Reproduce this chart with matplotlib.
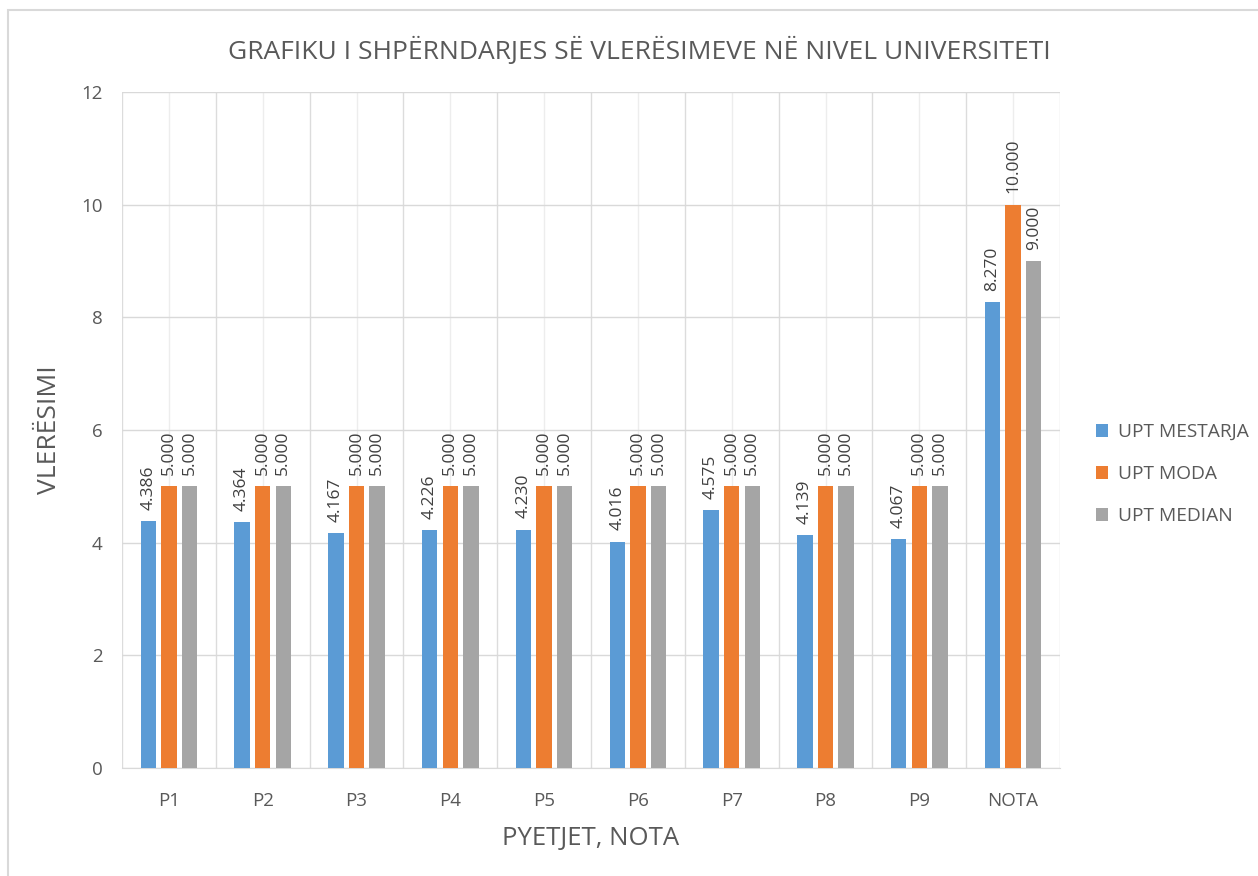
import matplotlib.pyplot as plt
import numpy as np
from matplotlib.patches import Rectangle

categories = ["P1", "P2", "P3", "P4", "P5", "P6", "P7", "P8", "P9", "NOTA"]
mestarja = [4.386, 4.364, 4.167, 4.226, 4.230, 4.016, 4.575, 4.139, 4.067, 8.270]
moda = [5.0, 5.0, 5.0, 5.0, 5.0, 5.0, 5.0, 5.0, 5.0, 10.0]
median = [5.0, 5.0, 5.0, 5.0, 5.0, 5.0, 5.0, 5.0, 5.0, 9.0]
series_names = ["UPT MESTARJA", "UPT MODA", "UPT MEDIAN"]

colors = ["#5B9BD5", "#ED7D31", "#A5A5A5"]
text_color = "#595959"

plt.rcParams["font.family"] = ["Open Sans", "DejaVu Sans"]

fig = plt.figure(figsize=(12.58, 8.76), dpi=100)
# outer chart frame (only left/top edges are visible in the crop)
fig.patches.append(Rectangle((8 / 1258, -0.1), 1.2, 1 - 10 / 876 + 0.1,
                             transform=fig.transFigure, fill=False,
                             edgecolor="#D9D9D9", linewidth=1.5))

ax = fig.add_axes([122 / 1258, 1 - 768 / 876, (1060 - 122) / 1258, (768 - 92) / 876])

x = np.arange(len(categories))
width = 0.165
offset = 0.22
for i, (vals, name) in enumerate(zip([mestarja, moda, median], series_names)):
    bars = ax.bar(x + (i - 1) * offset, vals, width, color=colors[i], label=name, zorder=3)
    for b, v in zip(bars, vals):
        ax.text(b.get_x() + b.get_width() / 2, v + 0.2, f"{v:.3f}", rotation=90,
                ha="center", va="bottom", fontsize=12.5, color="#404040", zorder=4)

ax.set_xlim(-0.5, len(categories) - 0.5)
ax.set_ylim(0, 12)
ax.set_yticks(range(0, 13, 2))
ax.set_xticks(x)
ax.set_xticklabels(categories)
ax.set_xticks(np.arange(-0.5, len(categories), 1.0), minor=True)

ax.grid(axis="y", color="#D9D9D9", linewidth=1, zorder=0)
ax.grid(axis="x", which="major", color="#EDEDED", linewidth=1, zorder=0)
ax.grid(axis="x", which="minor", color="#DCDCDC", linewidth=1, zorder=0)

for s in ["top", "right", "left"]:
    ax.spines[s].set_visible(False)
ax.spines["bottom"].set_color("#D9D9D9")
ax.tick_params(axis="both", which="both", length=0, labelsize=13.5, colors=text_color)
ax.tick_params(axis="x", pad=17)
ax.tick_params(axis="y", pad=14)

ax.set_title("GRAFIKU I SHPËRNDARJES SË VLERËSIMEVE NË NIVEL UNIVERSITETI",
             fontsize=19, color=text_color, pad=24, x=0.552)
ax.set_xlabel("PYETJET, NOTA", fontsize=18.5, color=text_color, labelpad=12)
ax.set_ylabel("VLERËSIMI", fontsize=19, color=text_color, labelpad=14)

ax.legend(loc="center left", bbox_to_anchor=(1.02, 0.435), frameon=False,
          fontsize=13.8, labelcolor=text_color, handlelength=0.65, handleheight=0.65,
          handletextpad=0.5, labelspacing=1.25)

fig.savefig("out.png", dpi=100)
